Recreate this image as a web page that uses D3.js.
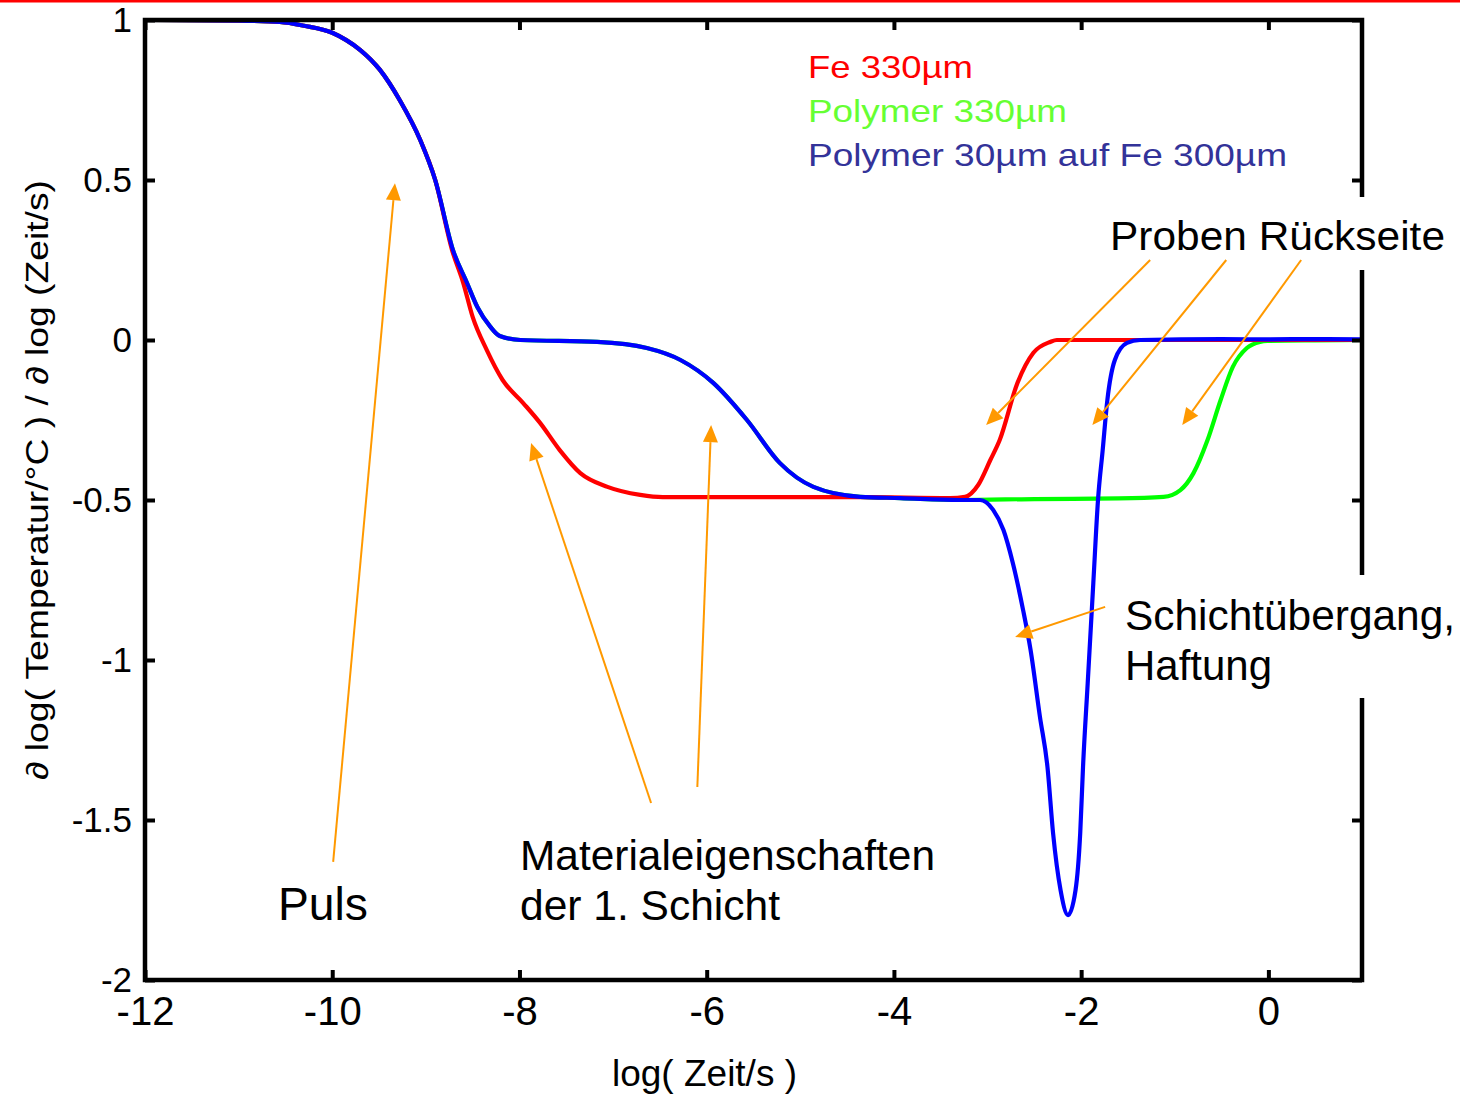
<!DOCTYPE html>
<html><head><meta charset="utf-8">
<script src="https://cdn.jsdelivr.net/npm/d3@7"></script>
<style>
html,body{margin:0;padding:0;background:#fff;}
svg{display:block;}
text{font-family:"Liberation Sans",Arial,sans-serif;}
</style></head>
<body>
<script>
// ---- data ----
const xTicks = [-12, -10, -8, -6, -4, -2, 0];
const xTickLabels = ["-12", "-10", "-8", "-6", "-4", "-2", "0"];
const yTicks = [1, 0.5, 0, -0.5, -1, -1.5, -2];
const yTickLabels = ["1", "0.5", "0", "-0.5", "-1", "-1.5", "-2"];

const seriesNames = ["Polymer 330\u00b5m", "Fe 330\u00b5m", "Polymer 30\u00b5m auf Fe 300\u00b5m"];

const greenValues = [
  [-12, 1], [-11.0, 0.998], [-10.56, 0.994], [-10.3, 0.982], [-10.0, 0.96], [-9.85, 0.937],
  [-9.70, 0.906], [-9.49, 0.844], [-9.28, 0.75], [-9.06, 0.625], [-8.90, 0.5], [-8.71, 0.281],
  [-8.56, 0.178], [-8.45, 0.103], [-8.31, 0.041], [-8.21, 0.0125], [-7.99, 0.0], [-7.17, -0.006],
  [-6.64, -0.025], [-6.28, -0.0625], [-5.93, -0.134], [-5.57, -0.25], [-5.22, -0.384], [-4.86, -0.459],
  [-4.36, -0.49], [-3.93, -0.494], [-3.3, -0.5], [-2.5, -0.497], [-1.6, -0.495], [-1.12, -0.49],
  [-0.94, -0.469], [-0.80, -0.416], [-0.65, -0.3125], [-0.51, -0.1875], [-0.38, -0.084], [-0.23, -0.025],
  [-0.09, -0.006], [-0.01, -0.003], [0.5, -0.001], [1, 0]
];

const redValues = [
  [-12, 1], [-11.0, 0.998], [-10.56, 0.994], [-10.3, 0.982], [-10.0, 0.96], [-9.85, 0.937],
  [-9.70, 0.906], [-9.49, 0.844], [-9.28, 0.75], [-9.06, 0.625], [-8.90, 0.5], [-8.72, 0.281],
  [-8.60, 0.178], [-8.50, 0.072], [-8.35, -0.031], [-8.18, -0.125], [-7.96, -0.197], [-7.78, -0.259],
  [-7.57, -0.344], [-7.35, -0.416], [-7.06, -0.459], [-6.71, -0.484], [-6.47, -0.491], [-4.36, -0.491],
  [-3.40, -0.494], [-3.24, -0.49], [-3.10, -0.453], [-2.97, -0.375], [-2.87, -0.3125], [-2.68, -0.134],
  [-2.51, -0.04], [-2.33, -0.006], [-2.26, 0], [1, 0]
];

const blueValues = [
  [-12, 1], [-11.0, 0.998], [-10.56, 0.994], [-10.3, 0.982], [-10.0, 0.96], [-9.85, 0.937],
  [-9.70, 0.906], [-9.49, 0.844], [-9.28, 0.75], [-9.06, 0.625], [-8.90, 0.5], [-8.71, 0.281],
  [-8.56, 0.178], [-8.45, 0.103], [-8.31, 0.041], [-8.21, 0.0125], [-7.99, 0.0], [-7.17, -0.006],
  [-6.64, -0.025], [-6.28, -0.0625], [-5.93, -0.134], [-5.57, -0.25], [-5.22, -0.384], [-4.86, -0.459],
  [-4.36, -0.49], [-3.93, -0.494], [-3.3, -0.5], [-3.08, -0.5], [-2.94, -0.531], [-2.83, -0.594],
  [-2.73, -0.697], [-2.62, -0.844], [-2.54, -0.969], [-2.44, -1.178], [-2.36, -1.334], [-2.30, -1.541],
  [-2.22, -1.719], [-2.14, -1.797], [-2.06, -1.719], [-2.01, -1.541], [-1.98, -1.334], [-1.93, -1.072],
  [-1.87, -0.759], [-1.82, -0.5], [-1.77, -0.344], [-1.72, -0.1875], [-1.64, -0.0625], [-1.51, -0.009],
  [-1.37, 0], [-0.5, 0.003], [0, 0.002], [0.5, 0.003], [1, 0.002]
];

// annotation arrows: [x0, y0, x1(tip), y1(tip)] in data units
const arrows = [
  [-9.99, -1.631, -9.33, 0.49],
  [-6.594, -1.447, -7.876, -0.322],
  [-6.10, -1.397, -5.953, -0.266],
  [-1.263, 0.25, -3.015, -0.266],
  [-0.45, 0.25, -1.88, -0.266],
  [0.35, 0.25, -0.92, -0.266],
  [-1.744, -0.834, -2.705, -0.928]
];

// ---- chart ----
const W = 1460, H = 1095;
const L = 145, R = 1362, T = 20, B = 980;
const svg = d3.select("body").append("svg").attr("width", W).attr("height", H);

const x = d3.scaleLinear().domain([-12, 1]).range([L, R]);
const y = d3.scaleLinear().domain([-2, 1]).range([B, T]);

// red line at very top
svg.append("rect").attr("x", 0).attr("y", 0).attr("width", W).attr("height", 2.5).attr("fill", "#ff0000");

// curves
const line = d3.line().x(d => x(d[0])).y(d => y(d[1])).curve(d3.curveMonotoneX);
const curves = [[greenValues, "#00ff00"], [redValues, "#ff0000"], [blueValues, "#0000ff"]];
svg.selectAll("path.curve").data(curves).enter().append("path")
  .attr("class", "curve")
  .attr("d", d => line(d[0]))
  .attr("fill", "none").attr("stroke", d => d[1]).attr("stroke-width", 4.2)
  .attr("stroke-linejoin", "round");

// axes with inward ticks
const axB = svg.append("g").attr("transform", `translate(0,${B})`)
  .call(d3.axisBottom(x).tickValues(xTicks).tickSize(-10).tickPadding(16).tickFormat((d, i) => xTickLabels[i]));
const axT = svg.append("g").attr("transform", `translate(0,${T})`)
  .call(d3.axisTop(x).tickValues(xTicks).tickSize(-10).tickFormat(""));
const axL = svg.append("g").attr("transform", `translate(${L},0)`)
  .call(d3.axisLeft(y).tickValues(yTicks).tickSize(-10).tickPadding(13).tickFormat((d, i) => yTickLabels[i]));
const axR = svg.append("g").attr("transform", `translate(${R},0)`)
  .call(d3.axisRight(y).tickValues(yTicks).tickSize(-10).tickFormat(""));
[axB, axT, axL, axR].forEach(g => {
  g.select(".domain").remove();
  g.selectAll(".tick line").attr("stroke", "#000").attr("stroke-width", 4);
});
axB.selectAll(".tick text").attr("font-size", 40).attr("fill", "#000").attr("dy", "0.72em");
axL.selectAll(".tick text").attr("font-size", 35).attr("fill", "#000");

// frame
svg.append("rect").attr("x", L).attr("y", T).attr("width", R - L).attr("height", B - T)
  .attr("fill", "none").attr("stroke", "#000").attr("stroke-width", 4.5);

// white boxes behind annotation texts
svg.append("rect").attr("x", 1100).attr("y", 197).attr("width", 360).attr("height", 73).attr("fill", "#fff");
svg.append("rect").attr("x", 1115).attr("y", 575).attr("width", 345).attr("height", 123).attr("fill", "#fff");

// arrows
const orange = "#ff9900";
arrows.forEach(a => {
  const x0 = x(a[0]), y0 = y(a[1]), x1 = x(a[2]), y1 = y(a[3]);
  const ang = Math.atan2(y1 - y0, x1 - x0);
  const len = 17, hw = 7.5;
  const bx = x1 - len * Math.cos(ang), by = y1 - len * Math.sin(ang);
  svg.append("line").attr("x1", x0).attr("y1", y0).attr("x2", bx).attr("y2", by)
    .attr("stroke", orange).attr("stroke-width", 2);
  const px = -Math.sin(ang) * hw, py = Math.cos(ang) * hw;
  svg.append("path").attr("d", `M${x1},${y1}L${bx + px},${by + py}L${bx - px},${by - py}Z`).attr("fill", orange);
});

// legend
const legend = [
  [seriesNames[1], "#ff0000", 78, 165],
  [seriesNames[0], "#66ff33", 122, 259],
  [seriesNames[2], "#333399", 166, 479]
];
legend.forEach(l => {
  svg.append("text").attr("x", 808).attr("y", l[2]).attr("font-size", 32).attr("fill", l[1])
    .attr("textLength", l[3]).attr("lengthAdjust", "spacingAndGlyphs").text(l[0]);
});

// annotations text
function label(t, xp, yp, fs, tl) {
  svg.append("text").attr("x", xp).attr("y", yp).attr("font-size", fs).attr("fill", "#000")
    .attr("textLength", tl).attr("lengthAdjust", "spacingAndGlyphs").text(t);
}
label("Proben R\u00fcckseite", 1110, 250, 40, 335);
label("Schicht\u00fcbergang,", 1125, 630, 42, 330);
label("Haftung", 1125, 680, 42, 147);
label("Puls", 278, 920, 46, 90);
label("Materialeigenschaften", 520, 870, 42, 415);
label("der 1. Schicht", 520, 920, 42, 260);

// axis titles
svg.append("text").attr("x", 612).attr("y", 1086).attr("font-size", 36).attr("fill", "#000")
  .attr("textLength", 185).attr("lengthAdjust", "spacingAndGlyphs").text("log( Zeit/s )");
svg.append("text").attr("transform", "translate(48,480) rotate(-90)").attr("text-anchor", "middle")
  .attr("font-size", 31).attr("fill", "#000")
  .attr("textLength", 600).attr("lengthAdjust", "spacingAndGlyphs")
  .text("\u2202 log( Temperatur/\u00b0C ) / \u2202 log (Zeit/s)");
</script>
</body></html>
